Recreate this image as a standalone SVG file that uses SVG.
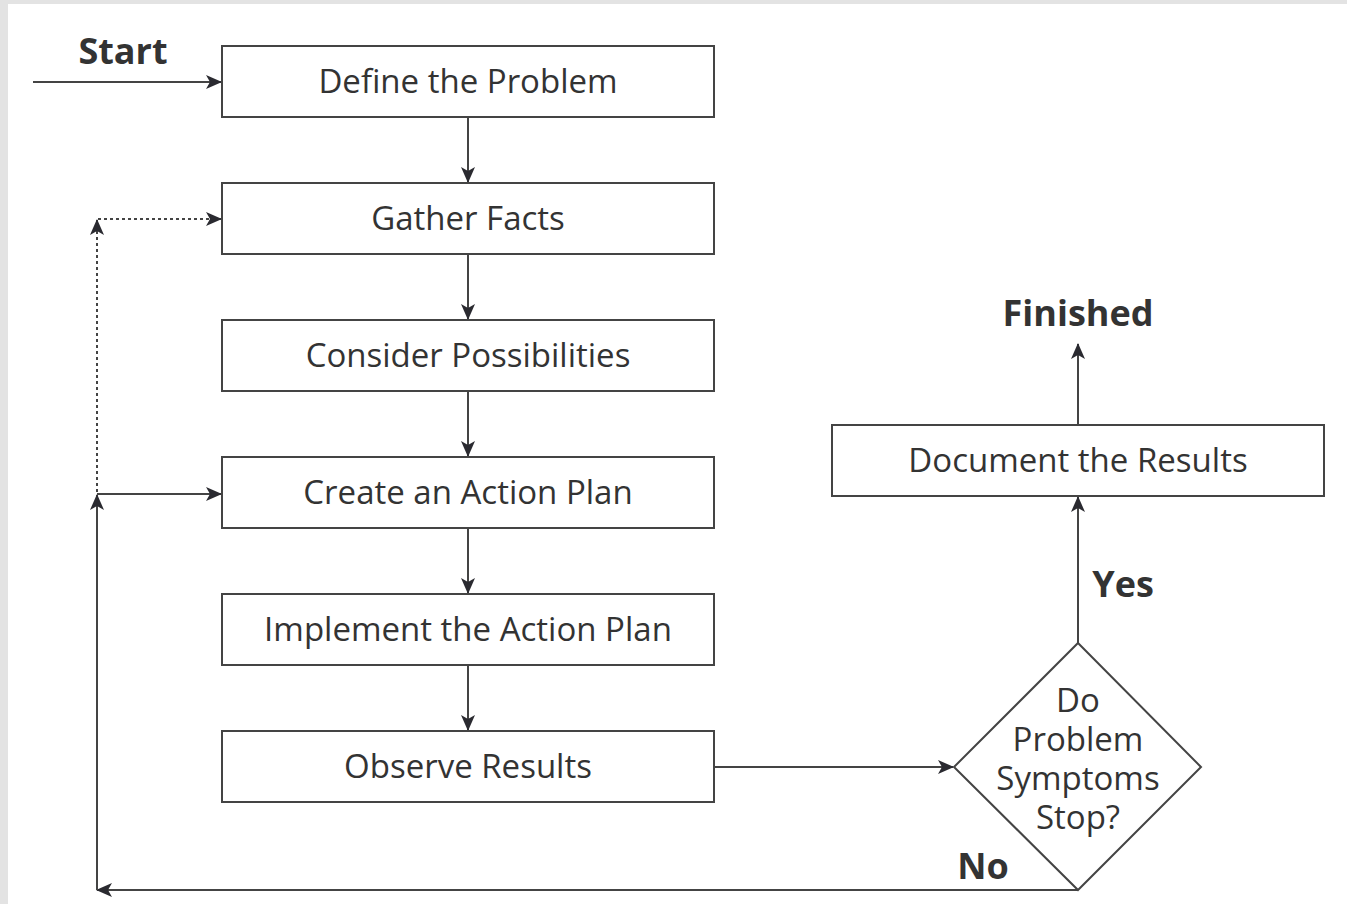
<svg xmlns="http://www.w3.org/2000/svg" width="1347" height="904" viewBox="0 0 1347 904">
<defs>
<style>
.bg{fill:#e3e3e3}
.node{fill:#fff;stroke:#444;stroke-width:2}
.t{font-family:"Open Sans","Liberation Sans",sans-serif;font-size:33px;fill:#333;text-anchor:middle}
.b{font-family:"Open Sans","Liberation Sans",sans-serif;font-size:36px;font-weight:bold;fill:#333;text-anchor:middle}
.c{fill:none;stroke:#444;stroke-width:2}
.d{fill:none;stroke:#444;stroke-width:2;stroke-dasharray:3 3}
</style>
<marker id="ah" viewBox="0 0 16 16" refX="15" refY="8" markerWidth="16" markerHeight="16" markerUnits="userSpaceOnUse" orient="auto">
<path d="M0,1 L16,8 L0,15 L4,8 Z" fill="#2a2a30"/>
</marker>
</defs>
<rect class="bg" x="0" y="0" width="1347" height="904"/>
<rect x="8" y="4" width="1339" height="900" fill="#fff"/>
<g id="connectors">
<line class="c" x1="33" y1="82" x2="221" y2="82" marker-end="url(#ah)"/>
<line class="c" x1="468" y1="117" x2="468" y2="182" marker-end="url(#ah)"/>
<line class="c" x1="468" y1="254" x2="468" y2="319" marker-end="url(#ah)"/>
<line class="c" x1="468" y1="391" x2="468" y2="456" marker-end="url(#ah)"/>
<line class="c" x1="468" y1="528" x2="468" y2="593" marker-end="url(#ah)"/>
<line class="c" x1="468" y1="665" x2="468" y2="730" marker-end="url(#ah)"/>
<line class="c" x1="714" y1="767" x2="953" y2="767" marker-end="url(#ah)"/>
<line class="c" x1="1078" y1="643" x2="1078" y2="497" marker-end="url(#ah)"/>
<line class="c" x1="1078" y1="425" x2="1078" y2="344" marker-end="url(#ah)"/>
<line class="c" x1="1078" y1="890" x2="97" y2="890" marker-end="url(#ah)"/>
<line class="c" x1="97" y1="890" x2="97" y2="495" marker-end="url(#ah)"/>
<line class="c" x1="97" y1="494" x2="221" y2="494" marker-end="url(#ah)"/>
<line class="d" x1="97" y1="492" x2="97" y2="220" marker-end="url(#ah)"/>
<line class="d" x1="98" y1="219" x2="221" y2="219" marker-end="url(#ah)"/>
</g>
<g id="n-define"><rect class="node" x="222" y="46" width="492" height="71"/><text class="t" x="468" y="93">Define the Problem</text></g>
<g id="n-gather"><rect class="node" x="222" y="183" width="492" height="71"/><text class="t" x="468" y="230">Gather Facts</text></g>
<g id="n-consider"><rect class="node" x="222" y="320" width="492" height="71"/><text class="t" x="468" y="367">Consider Possibilities</text></g>
<g id="n-create"><rect class="node" x="222" y="457" width="492" height="71"/><text class="t" x="468" y="504">Create an Action Plan</text></g>
<g id="n-implement"><rect class="node" x="222" y="594" width="492" height="71"/><text class="t" x="468" y="641">Implement the Action Plan</text></g>
<g id="n-observe"><rect class="node" x="222" y="731" width="492" height="71"/><text class="t" x="468" y="778">Observe Results</text></g>
<g id="n-document"><rect class="node" x="832" y="425" width="492" height="71"/><text class="t" x="1078" y="472">Document the Results</text></g>
<g id="n-decision"><polygon class="node" points="1078,643 1201,767 1078,890 954,767"/>
<text class="t" x="1078" y="712">Do</text>
<text class="t" x="1078" y="751">Problem</text>
<text class="t" x="1078" y="790">Symptoms</text>
<text class="t" x="1078" y="829">Stop?</text>
</g>
<g id="labels">
<text class="b" x="123" y="64">Start</text>
<text class="b" x="1078" y="326">Finished</text>
<text class="b" x="1123" y="597">Yes</text>
<text class="b" x="983" y="879">No</text>
</g>
</svg>
